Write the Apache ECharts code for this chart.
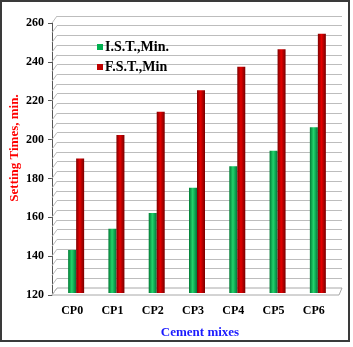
<!DOCTYPE html>
<html>
<head>
<meta charset="utf-8">
<script src="https://cdn.jsdelivr.net/npm/echarts@6/dist/echarts.min.js"></script>
<style>html,body{margin:0;padding:0;background:#fff}#c{width:353px;height:347px}</style>
</head>
<body>
<div id="c"></div>
<script>
const categories = ['CP0','CP1','CP2','CP3','CP4','CP5','CP6'];
const istValues = [142, 153, 161, 174, 185, 193, 205];
const fstValues = [189, 201, 213, 224, 236, 245, 253];
const seriesNames = ['I.S.T.,Min.', 'F.S.T.,Min'];
const yMin = 120, yMax = 260, minorStep = 5, majorStep = 20;

const serif = '"Liberation Serif", "Times New Roman", serif';
const chart = echarts.init(document.getElementById('c'), null, {renderer:'canvas'});

const greenGrad = new echarts.graphic.LinearGradient(0,0,1,0,[
  {offset:0,color:'#007a34'},{offset:0.45,color:'#22d46c'},{offset:1,color:'#00773a'}]);
const redGrad = new echarts.graphic.LinearGradient(0,0,1,0,[
  {offset:0,color:'#7e0000'},{offset:0.45,color:'#e60000'},{offset:1,color:'#780000'}]);

const staticGraphic = [
  {id:'floor', type:'polygon', z:1, shape:{points:[[52,295],[339,295],[342,288],[57,288]]},
   style:{fill:'#fff', stroke:'#a8a8a8', lineWidth:1}},
  {id:'ytitle', type:'text', z:10, x:15, y:148, rotation:Math.PI/2,
   style:{text:'Setting Times, min.', fill:'#ff0000', font:'bold 13px '+serif, textAlign:'center', textVerticalAlign:'middle'}},
  {id:'xtitle', type:'text', z:10, x:200, y:333,
   style:{text:'Cement mixes', fill:'#1a1aff', font:'bold 13px '+serif, textAlign:'center', textVerticalAlign:'middle'}},
  {id:'frame', type:'rect', z:20, shape:{x:1, y:1, width:348, height:340},
   style:{fill:'none', stroke:'#3a3a3a', lineWidth:2}}
];

chart.setOption({
  animation:false,
  backgroundColor:'#ffffff',
  grid:[
    {left:57, top:16, width:285, height:272},
    {left:56, top:20, width:282, height:273},
    {left:52, top:23, width:282, height:272}
  ],
  xAxis:[
    {gridIndex:0, type:'category', data:categories, show:false},
    {gridIndex:1, type:'category', data:categories, show:false},
    {gridIndex:2, type:'category', data:categories,
     axisLine:{show:false}, axisTick:{show:false},
     axisLabel:{color:'#000', fontFamily:serif, fontWeight:'bold', fontSize:12, margin:10}}
  ],
  yAxis:[
    {gridIndex:0, type:'value', min:yMin, max:yMax, interval:minorStep,
     axisLine:{show:false}, axisTick:{show:false}, axisLabel:{show:false},
     splitLine:{show:true, lineStyle:{color:'#bdbdbd', width:1.2}}},
    {gridIndex:1, type:'value', min:yMin, max:yMax, show:false, splitLine:{show:false}},
    {gridIndex:2, type:'value', min:yMin, max:yMax, interval:majorStep,
     axisLine:{show:true, lineStyle:{color:'#555', width:1}},
     axisTick:{show:true, length:4, lineStyle:{color:'#555'}},
     splitLine:{show:false},
     axisLabel:{color:'#000', fontFamily:serif, fontWeight:'bold', fontSize:12, margin:8}}
  ],
  legend:{
    orient:'vertical', left:92, top:35, itemWidth:6, itemHeight:6, itemGap:6,
    icon:'rect',
    textStyle:{color:'#000', fontFamily:serif, fontWeight:'bold', fontSize:14, padding:[0,0,0,-3]},
    data:[{name:seriesNames[0], itemStyle:{color:'#00b050'}},{name:seriesNames[1], itemStyle:{color:'#c00000'}}]
  },
  series:[
    {name:seriesNames[0], type:'bar', xAxisIndex:1, yAxisIndex:1, data:istValues,
     barWidth:8, barGap:'0%', itemStyle:{color:greenGrad}, z:5},
    {name:seriesNames[1], type:'bar', xAxisIndex:1, yAxisIndex:1, data:fstValues,
     barWidth:8, barGap:'0%', itemStyle:{color:redGrad}, z:5}
  ],
  graphic:staticGraphic
});

// side-wall diagonals joining front axis ticks to back-wall gridlines
const diag = [];
for (let v = yMin; v <= yMax; v += minorStep) {
  const front = chart.convertToPixel({gridIndex:2}, [0, v]);
  const back = chart.convertToPixel({gridIndex:0}, [0, v]);
  diag.push({type:'line', z:2, shape:{x1:52, y1:front[1], x2:57, y2:back[1]},
    style:{stroke:'#bdbdbd', lineWidth:1}});
}
chart.setOption({graphic: staticGraphic.concat(diag)});
</script>
</body>
</html>
